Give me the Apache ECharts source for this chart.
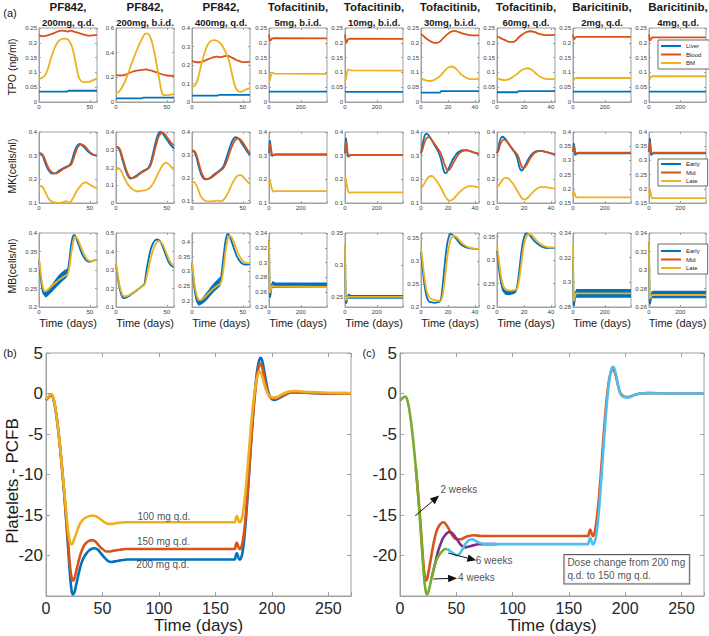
<!DOCTYPE html>
<html><head><meta charset="utf-8">
<script src="https://cdn.jsdelivr.net/npm/echarts@6.0.0/dist/echarts.min.js"></script>
<style>html,body{margin:0;padding:0;background:#fff}#c{width:709px;height:636px}</style>
</head><body><div id="c"></div>
<script>
// ---------- labels ----------
const drugNames = ['PF842,','PF842,','PF842,','Tofacitinib,','Tofacitinib,','Tofacitinib,','Tofacitinib,','Baricitinib,','Baricitinib,'];
const doseNames = ['200mg, q.d.','200mg, b.i.d.','400mg, q.d.','5mg, b.i.d.','10mg, b.i.d.','30mg, b.i.d.','60mg, q.d.','2mg, q.d.','4mg, q.d.'];
const rowNames = ['TPO (ng/ml)','MK(cells/nl)','MB(cells/nl)'];
// x range [max, step] per column
const xMax = [57,57,57,365,365,43,43,365,365];
const xStep = [50,50,50,200,200,20,20,200,200];
// y ranges [min,max,step]
const tpoY = [[0,0.25,0.05],[0,0.6,0.2],[0,0.4,0.1],[0,0.25,0.05],[0,0.25,0.05],[0,0.25,0.05],[0,0.25,0.05],[0,0.25,0.05],[0,0.25,0.05]];
const mkY = [[0.1,0.4,0.1],[0,0.4,0.1],[0.09,0.4,0.1],[0.1,0.4,0.1],[0.1,0.4,0.1],[0.1,0.4,0.1],[0.1,0.4,0.1],[0.15,0.4,0.05],[0.15,0.4,0.05]];
const mbY = [[0.2,0.4,0.05],[0.1,0.5,0.1],[0.18,0.43,0.05],[0.24,0.34,0.02],[0.234,0.35,0.05],[0.2,0.362,0.05],[0.2,0.358,0.05],[0.28,0.34,0.02],[0.26,0.34,0.02]];

// ---------- TPO ----------
const tpoLiver = [
 [[0,0.035],[27,0.035],[29,0.038],[57,0.038]],
 [[0,0.030],[25,0.030],[27,0.035],[57,0.035]],
 [[0,0.035],[25,0.035],[27,0.038],[57,0.038]],
 [[0,0.035],[365,0.035]],
 [[0,0.034],[365,0.034]],
 [[0,0.032],[14,0.032],[15,0.037],[43,0.037]],
 [[0,0.033],[15,0.033],[16,0.037],[43,0.037]],
 [[0,0.035],[365,0.035]],
 [[0,0.035],[365,0.035]]
];
const tpoBlood = [
 [[0,0.226],[3,0.222],[6,0.223],[10,0.227],[14,0.232],[18,0.238],[22,0.241],[25,0.240],[28,0.238],[31,0.241],[34,0.238],[38,0.234],[42,0.230],[46,0.226],[50,0.224],[54,0.226],[57,0.227]],
 [[0,0.220],[4,0.215],[8,0.218],[12,0.230],[16,0.245],[20,0.255],[24,0.258],[27,0.262],[30,0.265],[32,0.258],[35,0.255],[40,0.240],[45,0.225],[50,0.215],[57,0.213]],
 [[0,0.222],[4,0.215],[8,0.215],[12,0.222],[16,0.232],[20,0.240],[24,0.245],[28,0.243],[32,0.248],[35,0.250],[38,0.243],[42,0.232],[46,0.222],[50,0.216],[54,0.216],[57,0.218]],
 [[0,0.228],[4,0.212],[8,0.206],[12,0.209],[18,0.214],[28,0.216],[365,0.215]],
 [[0,0.228],[4,0.210],[8,0.200],[13,0.206],[20,0.212],[30,0.214],[365,0.213]],
 [[0,0.230],[3,0.218],[6,0.208],[9,0.201],[12,0.200],[14,0.204],[16,0.213],[19,0.227],[22,0.237],[25,0.240],[28,0.236],[32,0.230],[36,0.226],[40,0.225],[43,0.225]],
 [[0,0.222],[3,0.215],[6,0.209],[9,0.203],[12,0.203],[14,0.208],[16,0.218],[19,0.229],[22,0.237],[25,0.239],[28,0.236],[32,0.229],[36,0.226],[43,0.227]],
 [[0,0.228],[4,0.214],[8,0.212],[14,0.218],[22,0.220],[365,0.220]],
 [[0,0.228],[4,0.211],[8,0.207],[14,0.214],[22,0.218],[365,0.218]]
];
const tpoBM = [
 [[0,0.078],[3,0.082],[6,0.090],[9,0.115],[12,0.150],[15,0.180],[18,0.200],[21,0.210],[24,0.214],[27,0.213],[30,0.205],[33,0.180],[35,0.150],[37,0.115],[39,0.085],[41,0.072],[44,0.067],[48,0.067],[52,0.072],[57,0.080]],
 [[0,0.070],[3,0.085],[6,0.120],[10,0.190],[14,0.280],[18,0.370],[22,0.450],[26,0.520],[29,0.555],[31,0.555],[34,0.520],[37,0.430],[40,0.300],[43,0.160],[45,0.080],[47,0.055],[51,0.055],[57,0.065]],
 [[0,0.080],[3,0.090],[6,0.130],[9,0.200],[12,0.260],[15,0.305],[18,0.328],[21,0.335],[25,0.330],[29,0.310],[33,0.270],[36,0.230],[39,0.160],[42,0.090],[45,0.060],[48,0.055],[52,0.065],[57,0.075]],
 [[0,0.070],[5,0.073],[10,0.085],[16,0.097],[22,0.100],[32,0.096],[365,0.095]],
 [[0,0.070],[5,0.076],[10,0.092],[16,0.107],[22,0.110],[32,0.107],[365,0.106]],
 [[0,0.080],[3,0.074],[6,0.071],[9,0.073],[12,0.080],[15,0.092],[18,0.108],[21,0.118],[23,0.120],[26,0.112],[29,0.097],[32,0.086],[35,0.079],[38,0.077],[43,0.078]],
 [[0,0.080],[3,0.076],[6,0.074],[9,0.077],[12,0.085],[15,0.095],[18,0.107],[21,0.113],[23,0.114],[26,0.108],[29,0.096],[32,0.085],[35,0.079],[38,0.077],[43,0.078]],
 [[0,0.072],[5,0.075],[10,0.079],[20,0.081],[365,0.081]],
 [[0,0.072],[5,0.077],[10,0.084],[20,0.087],[365,0.087]]
];

// ---------- MK ----------
const mkEarly = [
 [[0,0.31],[2,0.308],[4,0.295],[6,0.27],[8,0.25],[10,0.235],[12,0.226],[14,0.224],[17,0.228],[20,0.237],[24,0.247],[28,0.255],[30,0.26],[32,0.275],[34,0.305],[36,0.33],[38,0.345],[40,0.35],[42,0.345],[45,0.333],[48,0.318],[51,0.308],[54,0.302],[57,0.3]],
 [[0,0.315],[2,0.312],[4,0.29],[6,0.25],[8,0.21],[10,0.175],[12,0.15],[14,0.138],[16,0.14],[19,0.15],[22,0.162],[25,0.175],[28,0.185],[30,0.19],[32,0.2],[34,0.225],[36,0.27],[38,0.32],[40,0.365],[42,0.395],[44,0.4],[46,0.39],[49,0.365],[52,0.34],[55,0.318],[57,0.307]],
 [[0,0.32],[2,0.315],[4,0.295],[6,0.26],[8,0.228],[10,0.205],[12,0.195],[14,0.193],[17,0.198],[20,0.208],[24,0.222],[28,0.235],[31,0.25],[34,0.29],[37,0.33],[40,0.365],[43,0.378],[46,0.37],[49,0.35],[52,0.33],[55,0.31],[57,0.3]],
 [[0,0.31],[3,0.345],[6,0.365],[10,0.34],[15,0.305],[20,0.298],[28,0.303],[40,0.305],[365,0.305]],
 [[0,0.31],[3,0.35],[6,0.375],[10,0.345],[15,0.305],[20,0.295],[28,0.3],[40,0.303],[365,0.303]],
 [[0,0.31],[1,0.34],[2,0.37],[3,0.388],[4,0.393],[5,0.39],[7,0.375],[9,0.355],[11,0.335],[13,0.315],[14,0.3],[15,0.28],[16,0.255],[17,0.235],[18,0.226],[19,0.228],[20,0.24],[22,0.265],[24,0.288],[26,0.305],[28,0.316],[31,0.323],[34,0.323],[37,0.318],[40,0.312],[43,0.308]],
 [[0,0.31],[1,0.33],[2,0.36],[3,0.375],[4,0.38],[6,0.372],[8,0.355],[10,0.338],[12,0.322],[14,0.305],[15,0.29],[16,0.265],[17,0.245],[18,0.237],[19,0.24],[21,0.26],[23,0.283],[25,0.3],[27,0.312],[30,0.32],[33,0.32],[36,0.316],[40,0.31],[43,0.306]],
 [[0,0.33],[3,0.35],[6,0.36],[10,0.335],[14,0.318],[20,0.322],[30,0.325],[365,0.325]],
 [[0,0.33],[3,0.36],[6,0.378],[10,0.34],[14,0.318],[20,0.322],[30,0.325],[365,0.325]]
];
const mkMid = [
 [[0,0.31],[2,0.31],[4,0.302],[6,0.283],[8,0.26],[10,0.243],[12,0.232],[14,0.226],[17,0.225],[20,0.232],[24,0.244],[28,0.253],[30,0.257],[32,0.265],[34,0.288],[36,0.315],[38,0.335],[40,0.345],[42,0.348],[45,0.34],[48,0.325],[51,0.312],[54,0.304],[57,0.3]],
 [[0,0.315],[2,0.315],[4,0.3],[6,0.265],[8,0.225],[10,0.188],[12,0.16],[14,0.143],[16,0.14],[19,0.145],[22,0.157],[25,0.17],[28,0.181],[30,0.187],[32,0.195],[34,0.212],[36,0.248],[38,0.295],[40,0.34],[42,0.375],[44,0.393],[46,0.397],[48,0.388],[51,0.365],[54,0.34],[57,0.322]],
 [[0,0.32],[2,0.318],[4,0.305],[6,0.275],[8,0.242],[10,0.215],[12,0.2],[14,0.195],[17,0.196],[20,0.204],[24,0.218],[28,0.232],[31,0.243],[34,0.27],[37,0.31],[40,0.345],[43,0.368],[46,0.372],[49,0.36],[52,0.34],[55,0.318],[57,0.308]],
 [[0,0.31],[3,0.33],[6,0.35],[10,0.35],[15,0.32],[20,0.302],[28,0.302],[40,0.305],[365,0.305]],
 [[0,0.31],[3,0.335],[6,0.36],[10,0.355],[15,0.318],[20,0.298],[28,0.3],[40,0.303],[365,0.303]],
 [[0,0.31],[1,0.325],[2,0.345],[3,0.362],[4,0.373],[6,0.378],[8,0.366],[10,0.35],[12,0.333],[14,0.318],[15,0.305],[16,0.29],[17,0.27],[18,0.255],[19,0.243],[20,0.238],[21,0.24],[23,0.258],[25,0.28],[27,0.3],[29,0.313],[32,0.321],[35,0.321],[38,0.316],[41,0.311],[43,0.308]],
 [[0,0.31],[1,0.32],[2,0.34],[3,0.355],[5,0.368],[7,0.362],[9,0.348],[11,0.333],[13,0.318],[15,0.305],[16,0.293],[17,0.275],[18,0.258],[19,0.248],[20,0.247],[22,0.262],[24,0.283],[26,0.3],[28,0.312],[31,0.319],[34,0.319],[37,0.315],[40,0.31],[43,0.307]],
 [[0,0.33],[3,0.34],[6,0.352],[10,0.345],[14,0.328],[20,0.325],[30,0.327],[365,0.327]],
 [[0,0.33],[3,0.345],[6,0.365],[10,0.35],[14,0.327],[20,0.326],[30,0.327],[365,0.327]]
];
const mkLate = [
 [[0,0.165],[2,0.172],[4,0.165],[6,0.148],[8,0.13],[10,0.115],[13,0.105],[16,0.102],[20,0.1],[24,0.104],[27,0.108],[29,0.102],[31,0.105],[34,0.125],[37,0.15],[40,0.168],[43,0.182],[46,0.187],[49,0.18],[53,0.17],[57,0.162]],
 [[0,0.18],[2,0.195],[4,0.19],[6,0.17],[8,0.145],[10,0.12],[13,0.095],[16,0.078],[19,0.068],[22,0.065],[26,0.07],[29,0.073],[31,0.078],[34,0.09],[37,0.115],[40,0.15],[43,0.185],[46,0.215],[49,0.228],[52,0.218],[55,0.198],[57,0.185]],
 [[0,0.18],[2,0.182],[4,0.17],[6,0.15],[8,0.125],[10,0.11],[13,0.1],[17,0.097],[21,0.098],[25,0.1],[28,0.098],[30,0.1],[33,0.115],[36,0.14],[39,0.17],[42,0.195],[45,0.21],[48,0.212],[51,0.2],[54,0.185],[57,0.172]],
 [[0,0.185],[4,0.2],[8,0.19],[14,0.17],[20,0.155],[28,0.148],[40,0.15],[365,0.15]],
 [[0,0.19],[4,0.205],[8,0.19],[14,0.165],[20,0.148],[28,0.143],[40,0.145],[365,0.145]],
 [[0,0.16],[2,0.178],[4,0.198],[6,0.212],[8,0.214],[10,0.205],[12,0.19],[14,0.172],[16,0.15],[18,0.128],[20,0.113],[22,0.11],[24,0.117],[26,0.13],[29,0.148],[32,0.162],[35,0.17],[38,0.171],[41,0.168],[43,0.166]],
 [[0,0.163],[2,0.18],[4,0.198],[6,0.206],[8,0.205],[10,0.195],[12,0.18],[14,0.162],[16,0.142],[18,0.124],[20,0.115],[22,0.118],[24,0.13],[27,0.148],[30,0.162],[33,0.168],[36,0.167],[40,0.163],[43,0.162]],
 [[0,0.178],[4,0.19],[8,0.188],[14,0.176],[20,0.17],[30,0.17],[365,0.17]],
 [[0,0.185],[4,0.2],[8,0.193],[14,0.173],[20,0.166],[30,0.167],[365,0.167]]
];

// ---------- MB ----------
const mbEarly = [
 [[0,0.325],[1,0.3],[2,0.272],[3,0.252],[4,0.24],[5,0.234],[6,0.233],[8,0.236],[10,0.243],[13,0.252],[16,0.262],[19,0.272],[22,0.28],[25,0.287],[27,0.291],[28,0.295],[29,0.31],[30,0.33],[31,0.355],[32,0.375],[33,0.388],[34,0.394],[35,0.394],[36,0.39],[38,0.375],[40,0.36],[42,0.345],[44,0.335],[46,0.327],[48,0.323],[50,0.322],[53,0.325],[57,0.328]],
 [[0,0.33],[1,0.29],[2,0.25],[3,0.215],[4,0.19],[5,0.17],[6,0.157],[7,0.15],[8,0.148],[10,0.15],[13,0.16],[16,0.172],[19,0.184],[22,0.197],[25,0.21],[27,0.218],[28,0.225],[29,0.26],[30,0.3],[32,0.36],[34,0.41],[36,0.44],[38,0.458],[40,0.465],[42,0.462],[44,0.45],[46,0.425],[48,0.395],[50,0.365],[52,0.34],[54,0.325],[57,0.315]],
 [[0,0.33],[1,0.29],[2,0.255],[3,0.228],[4,0.21],[5,0.198],[6,0.193],[7,0.193],[9,0.198],[12,0.21],[15,0.222],[18,0.235],[21,0.247],[24,0.257],[27,0.265],[28,0.27],[29,0.29],[30,0.32],[31,0.35],[32,0.38],[33,0.405],[34,0.42],[35,0.427],[36,0.425],[38,0.41],[40,0.39],[42,0.37],[44,0.352],[47,0.335],[50,0.325],[53,0.323],[57,0.326]],
 [[0,0.33],[2,0.29],[4,0.262],[6,0.253],[9,0.256],[13,0.264],[17,0.27],[22,0.271],[30,0.27],[40,0.269],[365,0.269]],
 [[0,0.33],[2,0.28],[4,0.247],[6,0.24],[9,0.241],[13,0.246],[18,0.251],[25,0.251],[40,0.25],[365,0.25]],
 [[0,0.32],[1,0.29],[2,0.262],[3,0.24],[4,0.225],[5,0.216],[6,0.212],[8,0.21],[10,0.209],[12,0.21],[14,0.212],[15,0.22],[16,0.245],[17,0.275],[18,0.305],[19,0.33],[20,0.347],[21,0.356],[22,0.36],[23,0.359],[25,0.353],[27,0.346],[29,0.339],[31,0.334],[34,0.33],[38,0.328],[43,0.327]],
 [[0,0.32],[1,0.295],[2,0.27],[3,0.252],[4,0.24],[5,0.233],[7,0.23],[9,0.229],[11,0.23],[13,0.232],[14,0.234],[15,0.245],[16,0.265],[17,0.29],[18,0.315],[19,0.335],[20,0.348],[21,0.355],[22,0.357],[24,0.354],[26,0.347],[28,0.34],[31,0.333],[34,0.328],[38,0.326],[43,0.326]],
 [[0,0.32],[2,0.295],[4,0.283],[6,0.281],[9,0.284],[13,0.289],[18,0.291],[25,0.291],[40,0.291],[365,0.291]],
 [[0,0.33],[2,0.29],[4,0.266],[6,0.263],[9,0.266],[13,0.271],[18,0.274],[25,0.274],[40,0.273],[365,0.273]]
];
// oscillation envelope of the Early curve [t, low, high]
const mbEarlyBand = [
 [[4,0.238,0.242],[6,0.226,0.240],[8,0.228,0.244],[10,0.233,0.253],[13,0.241,0.263],[16,0.250,0.274],[19,0.259,0.285],[22,0.267,0.293],[25,0.274,0.300],[27,0.279,0.303],[28,0.284,0.306]],
 null,
 [[4,0.205,0.215],[6,0.185,0.201],[8,0.186,0.204],[10,0.19,0.21],[13,0.198,0.224],[16,0.209,0.237],[19,0.221,0.251],[22,0.232,0.263],[25,0.242,0.273],[28,0.252,0.284]],
 [[6,0.251,0.256],[10,0.254,0.262],[16,0.262,0.272],[22,0.266,0.275],[40,0.266,0.273],[365,0.266,0.273]],
 [[6,0.238,0.243],[10,0.240,0.247],[16,0.245,0.253],[22,0.247,0.255],[40,0.247,0.253],[365,0.247,0.253]],
 null,
 [[4,0.237,0.243],[6,0.226,0.236],[9,0.225,0.234],[12,0.227,0.236],[14,0.23,0.238]],
 [[6,0.279,0.284],[12,0.284,0.292],[20,0.2875,0.2945],[40,0.2875,0.2945],[365,0.2875,0.2945]],
 [[6,0.26,0.266],[12,0.267,0.275],[20,0.2695,0.2775],[40,0.2695,0.2775],[365,0.2695,0.2775]]
];
const mbLate = [
 [[0,0.33],[1,0.31],[2,0.285],[3,0.265],[4,0.252],[5,0.245],[6,0.243],[8,0.245],[10,0.25],[13,0.258],[16,0.265],[19,0.272],[22,0.278],[25,0.283],[27,0.286],[28,0.288],[29,0.295],[30,0.31],[31,0.33],[32,0.35],[33,0.368],[34,0.38],[35,0.387],[36,0.39],[37,0.388],[39,0.378],[41,0.363],[43,0.35],[45,0.338],[47,0.33],[49,0.325],[51,0.324],[54,0.326],[57,0.328]],
 [[0,0.33],[1,0.3],[2,0.265],[3,0.232],[4,0.205],[5,0.185],[6,0.17],[7,0.162],[8,0.158],[10,0.158],[13,0.165],[16,0.175],[19,0.186],[22,0.197],[25,0.208],[27,0.215],[28,0.22],[29,0.235],[30,0.26],[32,0.31],[34,0.36],[36,0.4],[38,0.43],[40,0.448],[42,0.456],[44,0.452],[46,0.437],[48,0.413],[50,0.385],[52,0.358],[54,0.338],[57,0.32]],
 [[0,0.33],[1,0.3],[2,0.27],[3,0.245],[4,0.228],[5,0.215],[6,0.207],[7,0.203],[9,0.204],[12,0.212],[15,0.222],[18,0.232],[21,0.242],[24,0.25],[27,0.257],[28,0.26],[29,0.268],[30,0.285],[31,0.31],[32,0.34],[33,0.37],[34,0.392],[35,0.407],[36,0.416],[37,0.42],[39,0.415],[41,0.4],[43,0.382],[45,0.364],[48,0.345],[51,0.333],[54,0.328],[57,0.328]],
 [[0,0.33],[2,0.295],[4,0.27],[6,0.259],[9,0.259],[13,0.264],[17,0.268],[22,0.269],[30,0.268],[365,0.267]],
 [[0,0.33],[2,0.29],[4,0.26],[6,0.246],[9,0.244],[13,0.247],[18,0.25],[25,0.25],[40,0.25],[365,0.25]],
 [[0,0.33],[1,0.305],[2,0.278],[3,0.255],[4,0.238],[5,0.228],[6,0.222],[8,0.217],[10,0.215],[12,0.214],[14,0.214],[15,0.215],[16,0.225],[17,0.245],[18,0.27],[19,0.297],[20,0.32],[21,0.337],[22,0.348],[23,0.354],[24,0.356],[26,0.354],[28,0.348],[30,0.341],[32,0.336],[35,0.331],[39,0.328],[43,0.327]],
 [[0,0.33],[1,0.31],[2,0.285],[3,0.265],[4,0.252],[5,0.243],[7,0.237],[9,0.235],[11,0.235],[13,0.236],[14,0.237],[15,0.24],[16,0.252],[17,0.27],[18,0.292],[19,0.315],[20,0.332],[21,0.344],[22,0.351],[23,0.355],[25,0.355],[27,0.35],[29,0.343],[32,0.335],[35,0.33],[39,0.327],[43,0.327]],
 [[0,0.33],[2,0.305],[4,0.289],[6,0.285],[9,0.286],[13,0.289],[18,0.291],[25,0.291],[365,0.291]],
 [[0,0.33],[2,0.3],[4,0.276],[6,0.269],[9,0.269],[13,0.271],[18,0.273],[25,0.273],[365,0.273]]
];

// ---------- (b) platelets PCFB ----------
const pcfb200 = [[0,-0.8],[2,-0.5],[4,-0.2],[5,-0.2],[6,-0.4],[7,-0.9],[8,-1.6],[9,-2.5],[10,-3.5],[11,-4.7],[12,-6.0],[13,-7.4],[14,-8.9],[15,-10.5],[16,-12.2],[17,-14.0],[18,-15.9],[19,-17.9],[20,-20.0],[21,-22.0],[22,-23.6],[23,-24.6],[24,-24.8],[25,-24.6],[26,-24.1],[28,-22.8],[30,-21.6],[32,-20.7],[34,-20.1],[36,-19.7],[38,-19.4],[40,-19.2],[43,-19.1],[46,-19.3],[49,-19.8],[52,-20.3],[55,-20.7],[58,-20.8],[62,-20.7],[66,-20.6],[72,-20.5],[100,-20.5],[140,-20.5],[167,-20.5],[168,-20.0],[169,-19.7],[170,-20.1],[171,-20.5],[172,-20.5],[173,-20.2],[174,-19.6],[175,-18.6],[176,-17.2],[177,-15.5],[178,-13.6],[179,-11.5],[180,-9.3],[181,-7.1],[182,-5.0],[183,-3.0],[184,-1.2],[185,0.4],[186,1.8],[187,2.9],[188,3.7],[189,4.2],[190,4.4],[191,4.2],[192,3.7],[193,2.9],[194,2.1],[195,1.3],[196,0.6],[197,0.1],[198,-0.3],[200,-0.7],[203,-0.8],[206,-0.6],[210,-0.3],[215,0.05],[220,0.15],[230,0.1],[250,0],[270,0]];
const pcfb150 = [[0,-0.8],[2,-0.5],[4,-0.2],[5,-0.2],[6,-0.4],[7,-0.9],[8,-1.6],[9,-2.5],[10,-3.5],[11,-4.7],[12,-6.0],[13,-7.4],[14,-8.9],[15,-10.5],[16,-12.1],[17,-13.8],[18,-15.6],[19,-17.4],[20,-19.2],[21,-20.9],[22,-22.2],[23,-22.9],[24,-23.1],[25,-22.9],[26,-22.4],[28,-21.2],[30,-20.1],[32,-19.3],[34,-18.7],[36,-18.4],[38,-18.2],[41,-18.1],[44,-18.3],[47,-18.8],[50,-19.2],[53,-19.5],[56,-19.5],[60,-19.4],[65,-19.3],[70,-19.2],[100,-19.2],[140,-19.2],[167,-19.2],[168,-18.7],[169,-18.4],[170,-18.8],[171,-19.2],[172,-19.2],[173,-18.9],[174,-18.4],[175,-17.5],[176,-16.3],[177,-14.8],[178,-13.1],[179,-11.2],[180,-9.2],[181,-7.2],[182,-5.2],[183,-3.3],[184,-1.6],[185,-0.1],[186,1.2],[187,2.3],[188,3.1],[189,3.6],[190,3.7],[191,3.4],[192,2.9],[193,2.2],[194,1.5],[195,0.9],[196,0.3],[197,-0.1],[198,-0.4],[200,-0.6],[203,-0.6],[206,-0.5],[210,-0.2],[215,0.1],[220,0.15],[230,0.1],[250,0],[270,0]];
const pcfb100 = [[0,-0.7],[2,-0.4],[4,-0.1],[5,-0.1],[6,-0.3],[7,-0.8],[8,-1.5],[9,-2.4],[10,-3.4],[11,-4.6],[12,-5.9],[13,-7.3],[14,-8.8],[15,-10.3],[16,-11.8],[17,-13.3],[18,-14.8],[19,-16.2],[20,-17.4],[21,-18.2],[22,-18.6],[23,-18.6],[24,-18.3],[26,-17.6],[28,-16.8],[30,-16.1],[32,-15.7],[34,-15.4],[37,-15.2],[40,-15.1],[43,-15.1],[46,-15.3],[49,-15.6],[52,-15.9],[55,-16.1],[58,-16.1],[62,-16.0],[70,-15.9],[100,-15.9],[140,-15.9],[167,-15.9],[168,-15.4],[169,-15.1],[170,-15.5],[171,-15.9],[172,-15.9],[173,-15.6],[174,-15.0],[175,-14.1],[176,-12.9],[177,-11.5],[178,-9.9],[179,-8.2],[180,-6.5],[181,-4.8],[182,-3.2],[183,-1.8],[184,-0.6],[185,0.5],[186,1.4],[187,2.1],[188,2.5],[189,2.7],[190,2.6],[191,2.3],[192,1.8],[193,1.3],[194,0.8],[195,0.4],[196,0.1],[197,-0.2],[199,-0.4],[202,-0.5],[205,-0.4],[209,-0.1],[214,0.2],[220,0.3],[230,0.2],[250,0.1],[270,0.05]];

// ---------- (c) dose switch ----------
const swGreen = [[0,-0.9],[2,-0.6],[4,-0.4],[5,-0.4],[6,-0.6],[7,-1.1],[8,-1.8],[9,-2.7],[10,-3.7],[11,-4.9],[12,-6.2],[13,-7.6],[14,-9.1],[15,-10.7],[16,-12.4],[17,-14.2],[18,-16.1],[19,-18.1],[20,-20.2],[21,-22.1],[22,-23.6],[23,-24.5],[24,-24.8],[25,-24.6],[26,-24.1],[28,-22.8],[30,-21.6],[32,-20.7],[34,-20.1],[36,-19.7],[38,-19.4],[40,-19.2],[42,-19.2]];
const swRed = [[14,-9.1],[15,-10.6],[16,-12.2],[17,-13.9],[18,-15.7],[19,-17.6],[20,-19.6],[21,-21.4],[22,-22.6],[23,-23.1],[24,-22.9],[25,-22.3],[26,-21.5],[28,-19.9],[30,-18.4],[32,-17.2],[34,-16.5],[36,-16.1],[38,-15.9],[40,-16.0],[42,-16.4],[44,-16.9],[46,-17.4],[48,-17.8],[51,-18.0],[54,-18.0],[57,-17.8],[61,-17.6],[66,-17.5],[72,-17.6],[100,-17.6],[140,-17.6],[167,-17.6],[168,-17.1],[169,-16.8],[170,-17.2],[171,-17.6],[172,-17.5],[173,-17.1],[174,-16.3],[175,-15.2],[176,-13.9],[177,-12.4],[178,-10.6],[179,-8.7],[180,-6.8],[181,-4.9],[182,-3.1],[183,-1.5],[184,-0.1],[185,1.0],[186,1.9],[187,2.5],[188,2.9],[189,3.0],[190,2.9],[191,2.5],[192,2.0],[193,1.4],[194,0.8],[195,0.3],[196,0.0],[198,-0.3],[201,-0.45],[204,-0.4],[208,-0.2],[213,0],[220,0.05],[240,0],[270,0]];
const swPurple = [[28,-22.8],[30,-21.7],[32,-20.5],[34,-19.4],[36,-18.6],[38,-17.9],[40,-17.5],[42,-17.2],[44,-17.1],[46,-17.2],[48,-17.5],[50,-17.9],[52,-18.3],[54,-18.7],[56,-18.9],[58,-19.0],[61,-18.9],[65,-18.75],[70,-18.62],[78,-18.6],[86,-18.6]];
const swCyan = [[42,-19.2],[44,-19.4],[46,-19.6],[48,-19.8],[50,-19.95],[52,-19.9],[54,-19.6],[56,-19.1],[58,-18.6],[60,-18.25],[62,-18.05],[64,-18.0],[66,-18.1],[68,-18.25],[71,-18.45],[75,-18.55],[85,-18.6],[100,-18.6],[140,-18.6],[167,-18.6],[168,-18.1],[169,-17.8],[170,-18.2],[171,-18.6],[172,-18.6],[173,-18.3],[174,-17.7],[175,-16.8],[176,-15.5],[177,-13.9],[178,-12.1],[179,-10.1],[180,-8.1],[181,-6.1],[182,-4.2],[183,-2.4],[184,-0.8],[185,0.6],[186,1.7],[187,2.6],[188,3.1],[189,3.3],[190,3.2],[191,2.8],[192,2.2],[193,1.5],[194,0.8],[195,0.3],[196,-0.1],[198,-0.4],[201,-0.5],[204,-0.45],[208,-0.2],[213,0],[220,0.05],[240,0],[270,0]];

// annotations (data coordinates)
const bNotes = [{text:'100 mg q.d.', x:81, y:-15.15},{text:'150 mg q.d.', x:80.5, y:-18.3},{text:'200 mg q.d.', x:80, y:-21.1}];
const cNotes = [{text:'2 weeks', x:36, y:-11.9},{text:'6 weeks', x:67.3, y:-20.6},{text:'4 weeks', x:51.6, y:-22.7}];
const cArrows = [[13.5,-15.1,34.8,-12.6],[42.8,-19.7,67.8,-20.6],[29.5,-22.9,50.7,-22.8]];
const cBox = {text:'Dose change from 200 mg\nq.d. to 150 mg q.d.', x:146, y:-21.7};

// ---------- build ----------
const FONT = '"Liberation Sans", Arial, Helvetica, sans-serif';
const C = {blue:'#0072BD', red:'#D95319', yellow:'#EDB120', purple:'#7E2F8E', green:'#77AC30', cyan:'#4DBEEE'};
const AX = '#a0a0a0', LBL = '#404040';
const panelLeft = [39,116,192,269,345,421,497,573,649];
const rowTop = [28,132,233], rowH = [74,71,74];

const grid=[], xAxis=[], yAxis=[], series=[], graphic=[];
function fmt(step, lo){ return function(v){ if(lo!==undefined && v<lo) return ''; const k=v/step; if(Math.abs(k-Math.round(k))>1e-6) return ''; return String(+(+v).toFixed(4)); }; }
function valAxis(gi, mn, mx, st, fs, margin, tl){
  const a = {type:'value', gridIndex:gi, min:mn, max:mx, splitLine:{show:false},
    axisLine:{show:true, onZero:false, lineStyle:{color:AX, width:1}},
    axisTick:{show:true, inside:true, length:tl, lineStyle:{color:AX}},
    axisLabel:{fontSize:fs, color:LBL, margin:margin, fontFamily:FONT, formatter:fmt(st)}};
  const k = mn/st;
  if (Math.abs(k-Math.round(k))<1e-9) a.interval = st; else a.splitNumber = Math.round((mx-mn)/st);
  return a;
}
function line(name, data, gi, color, w, smooth, z){
  return {name, type:'line', xAxisIndex:gi, yAxisIndex:gi, data, symbol:'none', showSymbol:false,
    smooth: smooth||false, lineStyle:{color, width:w}, itemStyle:{color}, silent:true, z: z||2};
}
function band(b, gi, color){
  return {type:'custom', xAxisIndex:gi, yAxisIndex:gi, data:b, encode:{x:0, y:[1,2]}, silent:true, z:2,
    renderItem:function(params, api){
      if (params.dataIndex !== 0) return null;
      const up = b.map(p=>api.coord([p[0],p[2]]));
      const lo = b.slice().reverse().map(p=>api.coord([p[0],p[1]]));
      return {type:'polygon', shape:{points: up.concat(lo)}, style:{fill:color}};
    }};
}

const rows = [
  {y:tpoY, s:[['Liver',tpoLiver,C.blue],['Blood',tpoBlood,C.red],['BM',tpoBM,C.yellow]]},
  {y:mkY, s:[['Early',mkEarly,C.blue],['Mid',mkMid,C.red],['Late',mkLate,C.yellow]]},
  {y:mbY, s:[['Early',mbEarly,C.blue],['Late',mbLate,C.yellow]], band:mbEarlyBand}
];
rows.forEach((row, r) => {
  for (let c=0; c<9; c++){
    const gi = r*9+c;
    grid.push({left:panelLeft[c], top:rowTop[r], width: c===8?59:58, height:rowH[r], show:true, borderColor:AX, borderWidth:1, backgroundColor:'#fff'});
    const xa = valAxis(gi, 0, xMax[c], xStep[c], 6, 2, 2);
    if (r===2){ Object.assign(xa, {name:'Time (days)', nameLocation:'middle', nameGap:10, nameTextStyle:{fontSize:11, color:'#222', fontFamily:FONT}}); }
    xAxis.push(xa);
    const yr = row.y[c];
    yAxis.push(valAxis(gi, yr[0], yr[1], yr[2], 6, 2, 2));
    const sm = xMax[c] < 100 ? 0.3 : false;
    if (row.band && row.band[c]) series.push(band(row.band[c], gi, C.blue));
    row.s.forEach(([nm, arr, col]) => series.push(line(nm, arr[c], gi, col, 1.8, sm)));
  }
});
// big panels
const bigLeft = [46, 400];
bigLeft.forEach((L, k) => {
  const gi = 27+k;
  grid.push({left:L, top:353, width: k===0?305:304, height:243, show:true, borderColor:AX, borderWidth:1, backgroundColor:'#fff'});
  const xa = valAxis(gi, 0, 270, 50, 16, 4, 4);
  Object.assign(xa, {name:'Time (days)', nameLocation:'middle', nameGap:20, nameTextStyle:{fontSize:17, color:'#222', fontFamily:FONT}});
  xa.axisLabel.color = '#262626';
  xAxis.push(xa);
  const ya = valAxis(gi, -25, 5, 5, 17, 3, 4);
  ya.axisLabel.formatter = fmt(5, -24);
  ya.axisLabel.color = '#262626';
  yAxis.push(ya);
});
// mirrored tick-only axes (top / right)
const nG = grid.length;
for (let gi=0; gi<nG; gi++){
  const bx = xAxis[gi], by = yAxis[gi];
  const tx = {type:'value', gridIndex:gi, position:'top', min:bx.min, max:bx.max, splitLine:{show:false}, axisLine:{show:false, onZero:false}, axisLabel:{show:false}, axisTick:{show:true, inside:true, length:bx.axisTick.length, lineStyle:{color:AX}}};
  if (bx.interval) tx.interval = bx.interval; else tx.splitNumber = bx.splitNumber;
  const ty = {type:'value', gridIndex:gi, position:'right', min:by.min, max:by.max, splitLine:{show:false}, axisLine:{show:false, onZero:false}, axisLabel:{show:false}, axisTick:{show:true, inside:true, length:by.axisTick.length, lineStyle:{color:AX}}};
  if (by.interval) ty.interval = by.interval; else ty.splitNumber = by.splitNumber;
  xAxis.push(tx); yAxis.push(ty);
}
// (b) series
series.push(line('200 mg', pcfb200, 27, C.blue, 2.6, 0.2, 3));
series.push(line('150 mg', pcfb150, 27, C.red, 2.6, 0.2, 3));
series.push(line('100 mg', pcfb100, 27, C.yellow, 2.6, 0.2, 3));
series.push({type:'scatter', xAxisIndex:27, yAxisIndex:27, symbolSize:0, silent:true, z:6,
  data: bNotes.map(n=>({value:[n.x,n.y], label:{formatter:n.text}})),
  label:{show:true, position:'right', distance:0, fontSize:10, color:'#222', fontFamily:FONT}});
// (c) series
series.push(line('2 weeks', swRed, 28, C.red, 2.6, 0.2, 3));
series.push(line('4 weeks', swPurple, 28, C.purple, 2.6, 0.2, 3));
series.push(line('6 weeks', swCyan, 28, C.cyan, 2.6, 0.2, 3));
series.push(line('common', swGreen, 28, C.green, 2.6, 0.2, 3));
series.push({type:'scatter', xAxisIndex:28, yAxisIndex:28, symbolSize:0, silent:true, z:6,
  data: cNotes.map(n=>({value:[n.x,n.y], label:{formatter:n.text}})).concat([{value:[cBox.x,cBox.y], label:{formatter:cBox.text, backgroundColor:'#fff', borderColor:'#333', borderWidth:1, padding:[2,4,1,3], lineHeight:12.7}}]),
  label:{show:true, position:'right', distance:0, fontSize:10, color:'#222', fontFamily:FONT}});
// arrows (drawn through the axis scales)
series.push({type:'custom', xAxisIndex:28, yAxisIndex:28, data:cArrows, encode:{x:[0,2], y:[1,3]}, silent:true, z:7,
  renderItem:function(params, api){
    const p0 = api.coord([api.value(0), api.value(1)]);
    const p1 = api.coord([api.value(2), api.value(3)]);
    const ang = Math.atan2(p1[1]-p0[1], p1[0]-p0[0]);
    const L = 9, W = 3.8;
    const bx = p1[0]-L*Math.cos(ang), by = p1[1]-L*Math.sin(ang);
    const nx = -Math.sin(ang)*W, ny = Math.cos(ang)*W;
    return {type:'group', children:[
      {type:'line', shape:{x1:p0[0], y1:p0[1], x2:bx, y2:by}, style:{stroke:'#111', lineWidth:1}},
      {type:'polygon', shape:{points:[[p1[0],p1[1]],[bx+nx,by+ny],[bx-nx,by-ny]]}, style:{fill:'#111'}}
    ]};
  }});

// texts
function txt(text, x, y, size, weight, rot){
  return {type:'text', x, y, rotation: rot||0, silent:true, z:20,
    style:{text, fontSize:size, fontWeight:weight||'normal', fontFamily:FONT, fill:'#1a1a1a',
      align:'center', verticalAlign:'middle', textAlign:'center', textVerticalAlign:'middle'}};
}
for (let c=0;c<9;c++){
  graphic.push(txt(drugNames[c], panelLeft[c]+29, 7, 11.5, 'bold'));
  graphic.push(txt(doseNames[c], panelLeft[c]+29, 22, 9.5, 'bold'));
}
graphic.push(txt(rowNames[0], 12, 67, 10.5, 'normal', Math.PI/2));
graphic.push(txt(rowNames[1], 12, 166, 10.5, 'normal', Math.PI/2));
graphic.push(txt(rowNames[2], 12, 266, 10.5, 'normal', Math.PI/2));
graphic.push(txt('Platelets - PCFB', 12, 481, 17, 'normal', Math.PI/2));
graphic.push(txt('(a)', 10, 13, 11));
graphic.push(txt('(b)', 10, 353, 11));
graphic.push(txt('(c)', 369, 353, 11));

const legCommon = {orient:'vertical', icon:'rect', itemWidth:20, itemHeight:2, itemGap:2.5, selectedMode:false,
  backgroundColor:'#fff', borderColor:'#444', borderWidth:0.8, padding:[3,8,3,3], z:10,
  textStyle:{fontSize:6, color:'#222', fontFamily:FONT}};
const legend = [
  Object.assign({data:['Liver','Blood','BM'], left:658, top:40}, legCommon),
  Object.assign({data:['Early','Mid','Late'], left:658, top:159}, legCommon, {padding:[2,8,2,3]}),
  Object.assign({data:['Early','Mid','Late'], left:658, top:244}, legCommon, {padding:[4,8,3,3]})
];

const chart = echarts.init(document.getElementById('c'), null, {renderer:'svg', width:709, height:636});
chart.setOption({animation:false, backgroundColor:'#fff', grid, xAxis, yAxis, series, legend, graphic});
</script></body></html>
